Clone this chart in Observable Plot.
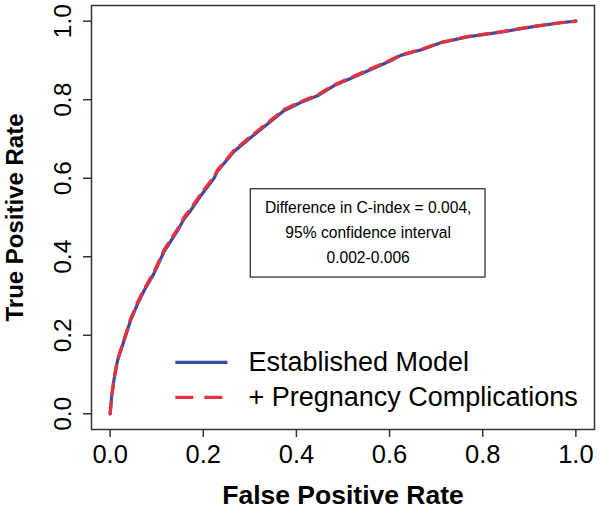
<!DOCTYPE html>
<html>
<head>
<meta charset="utf-8">
<script src="https://cdn.jsdelivr.net/npm/d3@7"></script>
<script src="https://cdn.jsdelivr.net/npm/@observablehq/plot@0.6"></script>
<style>
  html, body { margin: 0; padding: 0; background: white; }
  #chart { width: 600px; height: 511px; }
</style>
</head>
<body>
<div id="chart"></div>
<script>
// ROC curve: Established Model
const estFpr = [0, 0.003, 0.008, 0.016, 0.030, 0.044, 0.059, 0.073, 0.094, 0.116, 0.145, 0.159, 0.173, 0.195, 0.223, 0.230, 0.266, 0.302, 0.338, 0.373, 0.409, 0.445, 0.481, 0.516, 0.550, 0.600, 0.624, 0.670, 0.710, 0.767, 0.838, 0.909, 0.967, 1.0];
const estTpr = [0, 0.040, 0.085, 0.136, 0.187, 0.238, 0.280, 0.314, 0.357, 0.414, 0.467, 0.497, 0.518, 0.556, 0.600, 0.617, 0.668, 0.704, 0.738, 0.772, 0.793, 0.810, 0.836, 0.854, 0.872, 0.898, 0.913, 0.928, 0.945, 0.960, 0.972, 0.986, 0.996, 1.0];
// ROC curve: + Pregnancy Complications
const pregFpr = [0, 0.003, 0.008, 0.016, 0.030, 0.044, 0.059, 0.073, 0.094, 0.116, 0.145, 0.159, 0.173, 0.195, 0.223, 0.230, 0.266, 0.302, 0.338, 0.373, 0.409, 0.445, 0.481, 0.516, 0.550, 0.600, 0.624, 0.670, 0.710, 0.767, 0.838, 0.909, 0.967, 1.0];
const pregTpr = [0, 0.042, 0.088, 0.139, 0.190, 0.242, 0.284, 0.318, 0.361, 0.418, 0.471, 0.501, 0.522, 0.561, 0.604, 0.620, 0.671, 0.707, 0.741, 0.775, 0.795, 0.812, 0.838, 0.856, 0.874, 0.900, 0.914, 0.929, 0.946, 0.961, 0.973, 0.987, 0.996, 1.0];

const xTicks = [0, 0.2, 0.4, 0.6, 0.8, 1.0];
const yTicks = [0, 0.2, 0.4, 0.6, 0.8, 1.0];
const seriesNames = ["Established Model", "+ Pregnancy Complications"];
const annotationLines = ["Difference in C-index = 0.004,", "95% confidence interval", "0.002-0.006"];

const est = estFpr.map((f, i) => ({fpr: f, tpr: estTpr[i]}));
const preg = pregFpr.map((f, i) => ({fpr: f, tpr: pregTpr[i]}));

const blue = "#3b4aa2";
const red = "#e8313f";
const font = "'Liberation Sans', Arial, Helvetica, sans-serif";

const chart = Plot.plot({
  width: 600,
  height: 511,
  marginLeft: 91,
  marginRight: 6,
  marginTop: 5,
  marginBottom: 82,
  x: {domain: [-0.04, 1.04]},
  y: {domain: [-0.04, 1.04]},
  style: {fontFamily: font, background: "white", color: "black"},
  marks: [
    Plot.frame({stroke: "#333", strokeWidth: 1.5}),
    Plot.axisX({ticks: xTicks, tickSize: 8, tickPadding: 7, tickFormat: d3.format(".1f"), fontSize: 25.5, label: null, stroke: "#333", strokeWidth: 1.5}),
    Plot.axisY({ticks: yTicks, tickSize: 8, tickPadding: 13, tickRotate: -90, tickFormat: d3.format(".1f"), fontSize: 24.5, label: null, stroke: "#333", strokeWidth: 1.5}),
    Plot.text(["False Positive Rate"], {frameAnchor: "bottom", dy: 66, text: d => d, fontSize: 26.5, fontWeight: "bold", textAnchor: "middle", lineAnchor: "middle"}),
    Plot.text(["True Positive Rate"], {frameAnchor: "left", dx: -76, rotate: -90, text: d => d, fontSize: 24, fontWeight: "bold", textAnchor: "middle", lineAnchor: "middle"}),
    Plot.line(est, {x: "fpr", y: "tpr", stroke: blue, strokeWidth: 3.2}),
    Plot.line(preg, {x: "fpr", y: "tpr", stroke: red, strokeWidth: 3.2, strokeDasharray: "11,8"}),
    Plot.rect([annotationLines], {x1: 0.302, x2: 0.806, y1: 0.347, y2: 0.572, fill: "white", stroke: "#333", strokeWidth: 1.3}),
    Plot.text([annotationLines.join("\n")], {x: 0.554, y: 0.468, text: d => d, fontSize: 15.6, lineHeight: 1.6, textAnchor: "middle", fill: "black"}),
    Plot.ruleY([0.131], {x1: 0.141, x2: 0.253, stroke: blue, strokeWidth: 3.2}),
    Plot.ruleY([0.042], {x1: 0.141, x2: 0.253, stroke: red, strokeWidth: 3.2, strokeDasharray: "18,11"}),
    Plot.text(seriesNames, {x: 0.297, y: (d, i) => [0.131, 0.042][i], text: d => d, fontSize: 27, textAnchor: "start", fill: "black"})
  ]
});
document.getElementById("chart").appendChild(chart);
</script>
</body>
</html>
